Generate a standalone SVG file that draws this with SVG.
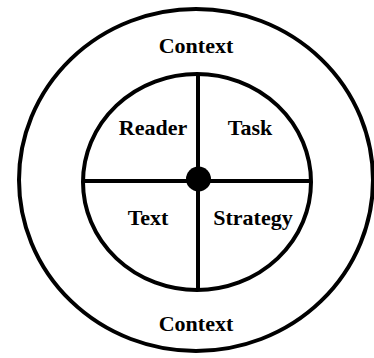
<svg xmlns="http://www.w3.org/2000/svg" width="374" height="358" viewBox="0 0 374 358">
<style>
.ln{fill:none;stroke:#000;stroke-width:4}
.t{font-family:"Liberation Serif","Times New Roman",serif;font-weight:bold;font-size:22px;text-anchor:middle;fill:#000}
</style>
<rect width="374" height="358" fill="#fff"/>
<g id="outer">
<ellipse class="ln" cx="196" cy="180" rx="177" ry="171"/>
<text class="t" x="196" y="53">Context</text>
<text class="t" x="196" y="331">Context</text>
</g>
<g id="inner">
<ellipse class="ln" cx="197" cy="182" rx="114" ry="108"/>
</g>
<g id="connectors">
<line class="ln" x1="198" y1="74" x2="198" y2="290"/>
<line class="ln" x1="83" y1="181" x2="311" y2="181"/>
</g>
<g id="hub"><circle cx="198.5" cy="179" r="12.5" fill="#000"/></g>
<g id="reader"><text class="t" x="153" y="135">Reader</text></g>
<g id="task"><text class="t" x="250" y="135">Task</text></g>
<g id="text"><text class="t" x="148" y="225">Text</text></g>
<g id="strategy"><text class="t" x="253" y="225">Strategy</text></g>
</svg>
